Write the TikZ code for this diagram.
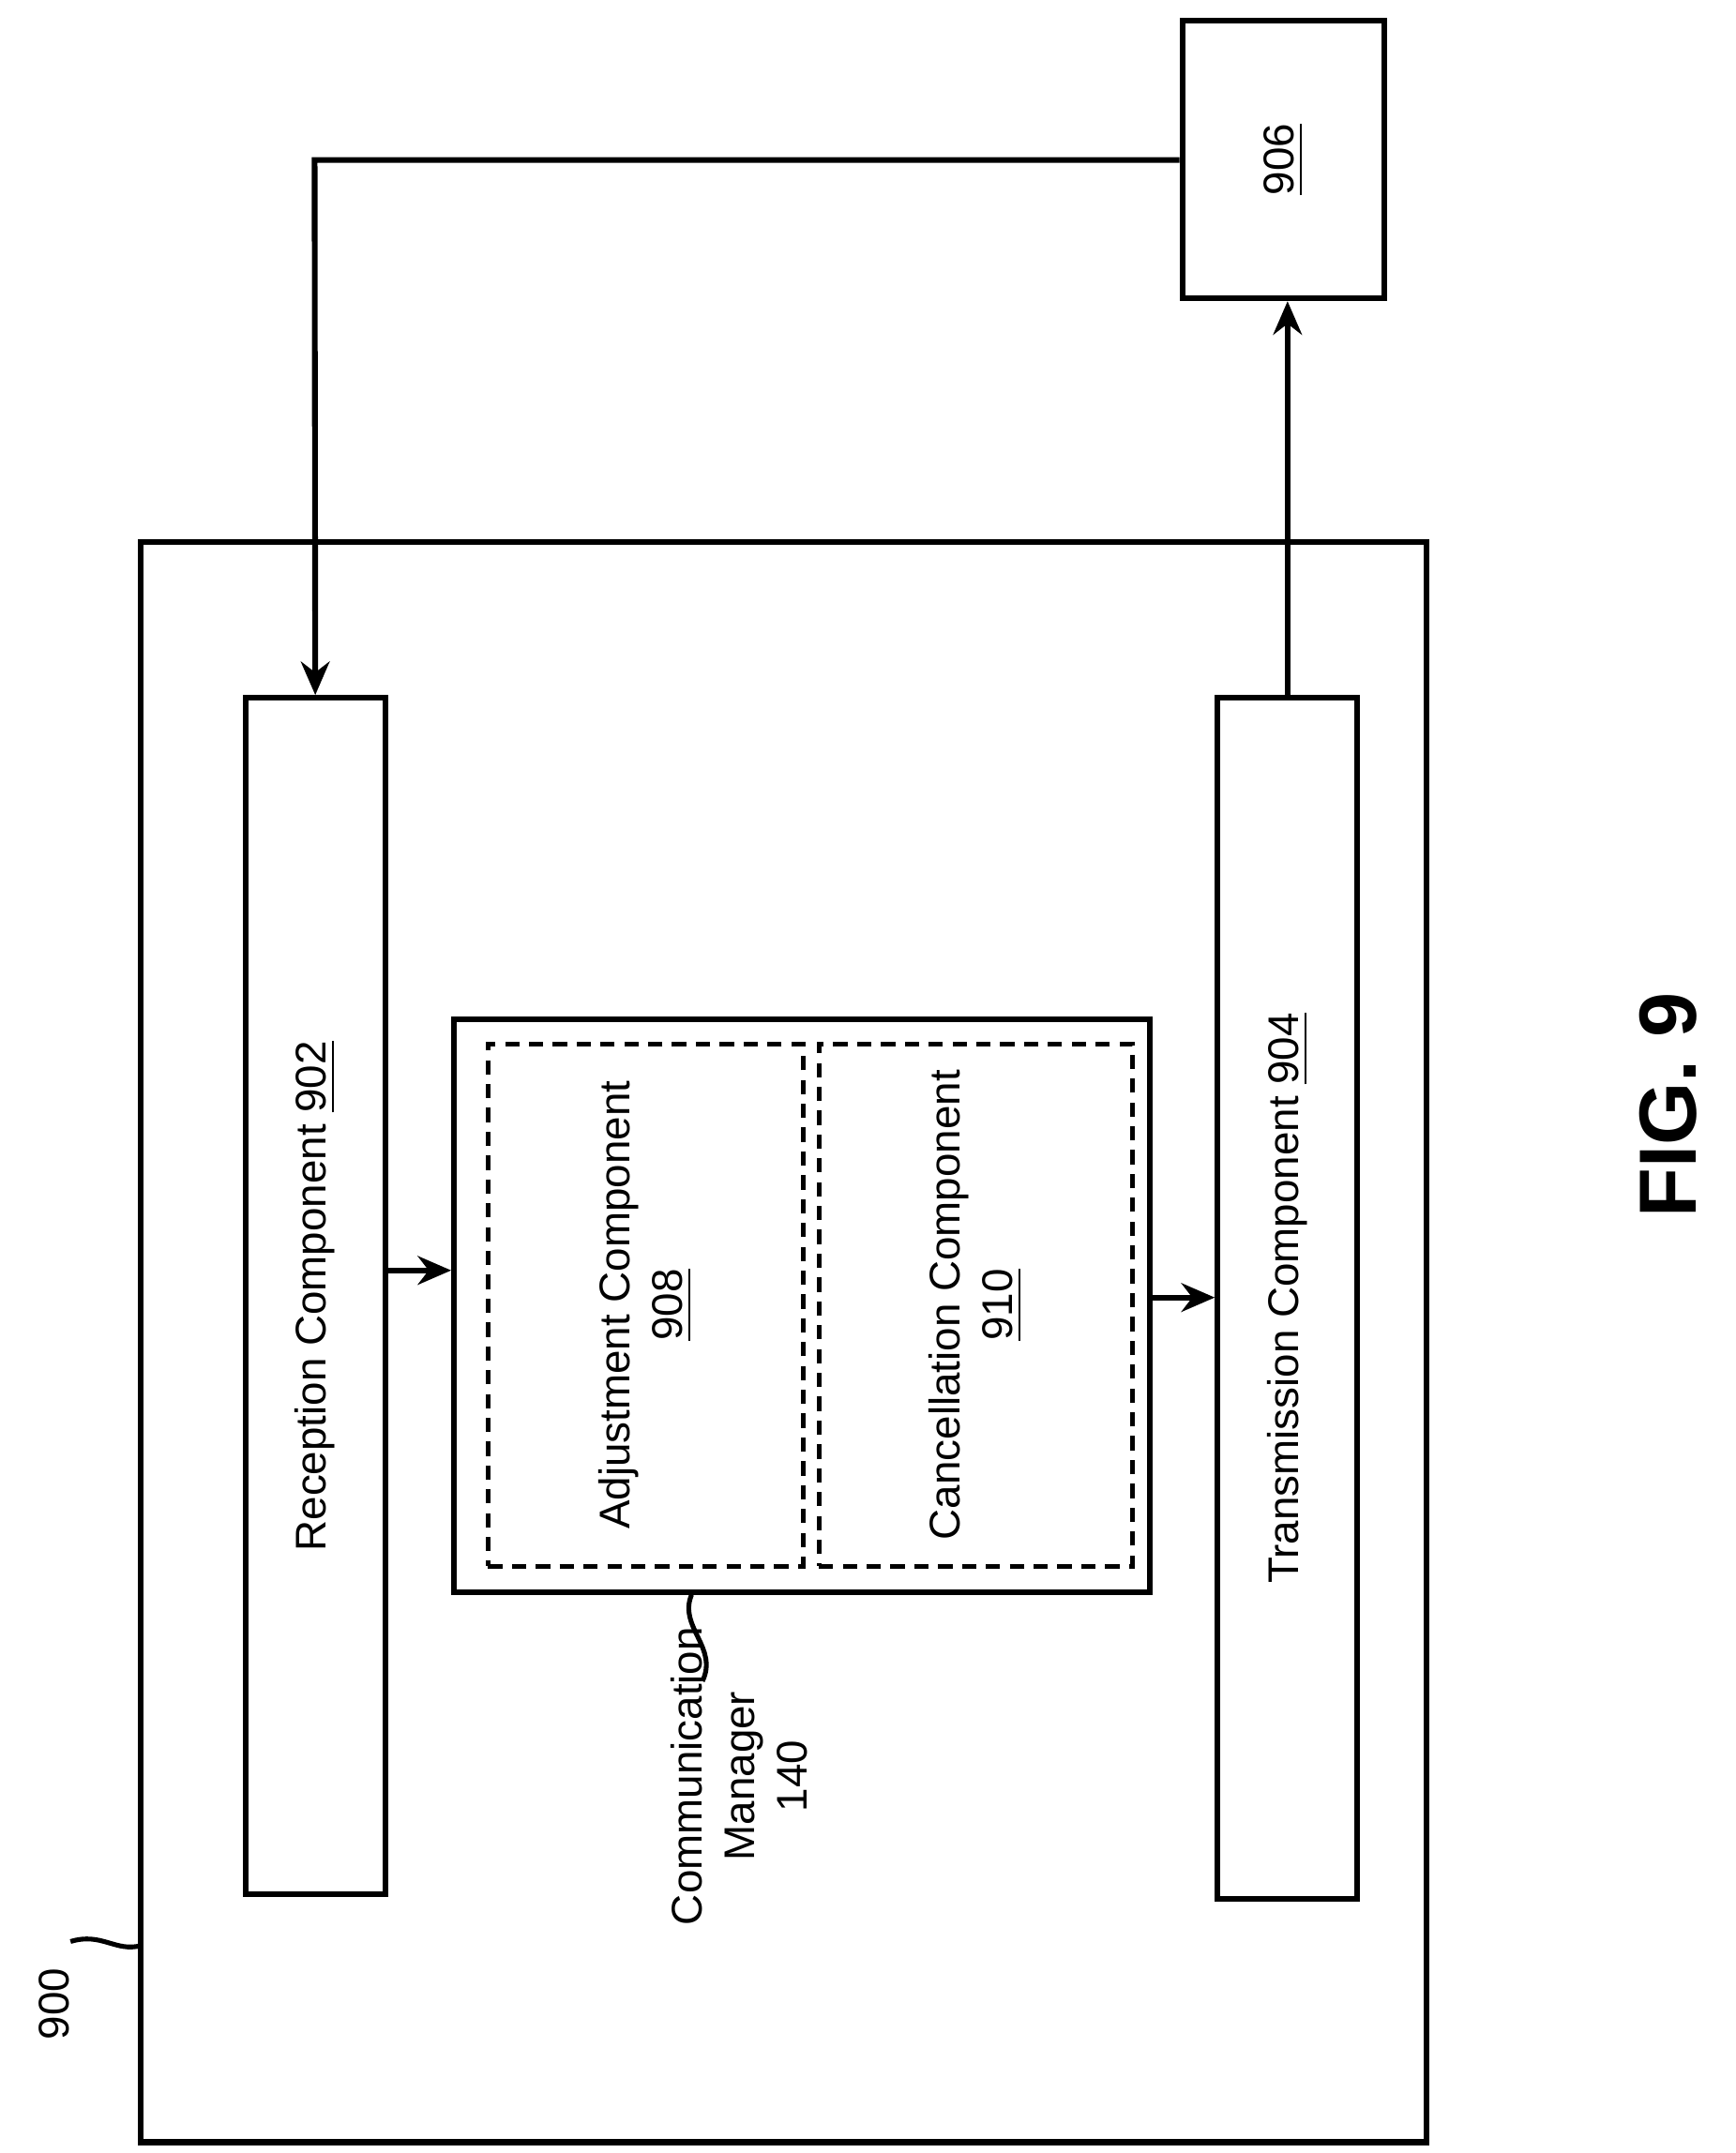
\documentclass[tikz,border=0pt]{standalone}
\usepackage{fontspec}
\setmainfont{Liberation Sans}
\usetikzlibrary{arrows.meta}
\tikzset{
  blk/.style={draw, line width=1.2pt, inner sep=0pt},
  dsh/.style={draw, line width=1pt, densely dashed, inner sep=0pt},
  lbl/.style={rotate=90, align=center, font=\fontsize{9}{11}\selectfont},
  arr/.style={line width=1.2pt, -{Stealth[length=7pt,width=6pt]}}
}
\begin{document}
\begin{tikzpicture}[x=0.01cm, y=-0.01cm]
  \useasboundingbox (0,0) rectangle (1280,1588);
  % outer device
  \draw[blk] (104,400) rectangle (1052,1580);
  % components
  \node[blk, minimum width=1.03cm, minimum height=8.82cm] (rx) at (232.5,956) {};
  \node[lbl] (rxt) at (rx.center) {Reception Component \underline{902}};
  \node[blk, minimum width=1.03cm, minimum height=8.85cm] (tx) at (949.5,957.5) {};
  \node[lbl] (txt) at (tx.center) {Transmission Component \underline{904}};
  \node[blk, minimum width=5.13cm, minimum height=4.22cm] (cm) at (591.5,963) {};
  \node[dsh, minimum width=2.32cm, minimum height=3.85cm] (adj) at (476,962.5) {};
  \node[lbl] (adjt) at (adj.center) {Adjustment Component\\\underline{908}};
  \node[dsh, minimum width=2.31cm, minimum height=3.85cm] (can) at (719.5,962.5) {};
  \node[lbl] (cant) at (can.center) {Cancellation Component\\\underline{910}};
  \node[blk, minimum width=1.49cm, minimum height=2.05cm] (dev) at (946.5,117.5) {};
  \node[lbl] (devt) at (dev.center) {\underline{906}};
  % connectors
  \coordinate (corner) at (232,118);
  \coordinate (a1) at (0,937);
  \coordinate (a2) at (0,957);
  \draw[arr] (dev.west |- corner) -- (corner) -- (rx.north);
  \draw[arr] (tx.north) -- (tx.north |- dev.south);
  \draw[arr] (rx.east |- a1) -- (cm.west |- a1);
  \draw[arr] (cm.east |- a2) -- (tx.west |- a2);
  % labels
  \node[lbl] (cmlbl) at (545,1310) {Communication\\Manager\\140};
  \coordinate (c1) at (510,0);
  \draw[line width=1pt] (cm.south -| c1) .. controls (500,1200) and (530,1215) .. (518,1240);
  \node[lbl] (num) at (40,1478) {900};
  \draw[line width=1pt] (104,1435) .. controls (85,1440) and (75,1425) .. (52,1432);
  \node[rotate=90, font=\bfseries\fontsize{17}{20}\selectfont] (fig) at (1230,815) {FIG. 9};
\end{tikzpicture}
\end{document}
